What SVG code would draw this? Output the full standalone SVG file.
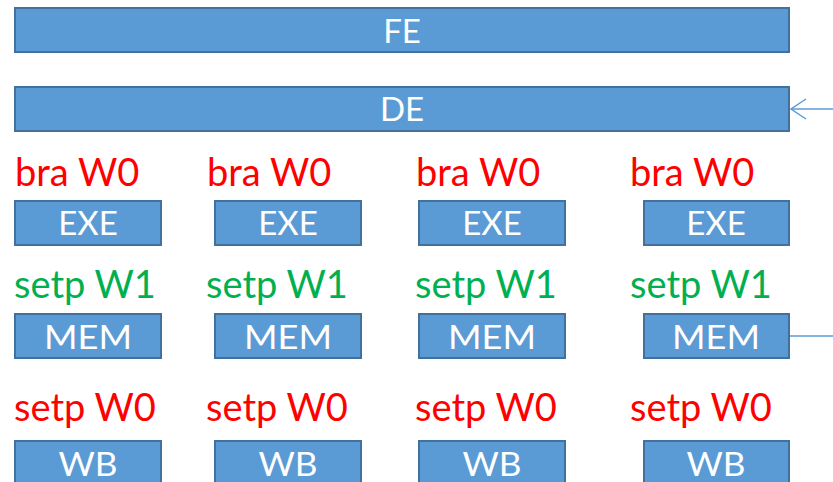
<svg xmlns="http://www.w3.org/2000/svg" width="833" height="482" viewBox="0 0 833 482">
<style>
.box{fill:#5B9BD5;stroke:#41719C;stroke-width:2}
.bt{font-family:Lato,"Open Sans",sans-serif;font-size:33px;fill:#fff;text-anchor:middle}
.lbl{font-family:Lato,"Open Sans",sans-serif;font-size:38px}
.red{fill:#FF0000}
.grn{fill:#00B050}
.conn{stroke:#5B9BD5;stroke-width:1.5;fill:none}
</style>
<rect width="833" height="482" fill="#fff"/>
<g id="fe"><rect class="box" x="15" y="8" width="774" height="44"/><text class="bt" x="402" y="43">FE</text></g>
<g id="de"><rect class="box" x="15" y="87" width="774" height="44"/><text class="bt" x="402" y="121">DE</text></g>
<g id="labels-bra">
<text class="lbl red" x="15" y="186">bra W0</text>
<text class="lbl red" x="207" y="186">bra W0</text>
<text class="lbl red" x="416" y="186">bra W0</text>
<text class="lbl red" x="630" y="186">bra W0</text>
</g>
<g id="exe1"><rect class="box" x="15" y="201" width="146" height="44"/><text class="bt" x="88" y="235">EXE</text></g>
<g id="exe2"><rect class="box" x="215" y="201" width="146" height="44"/><text class="bt" x="288" y="235">EXE</text></g>
<g id="exe3"><rect class="box" x="419" y="201" width="146" height="44"/><text class="bt" x="492" y="235">EXE</text></g>
<g id="exe4"><rect class="box" x="644" y="201" width="145" height="44"/><text class="bt" x="716" y="235">EXE</text></g>
<g id="labels-setp1">
<text class="lbl grn" x="14" y="298">setp W1</text>
<text class="lbl grn" x="206" y="298">setp W1</text>
<text class="lbl grn" x="415" y="298">setp W1</text>
<text class="lbl grn" x="630" y="298">setp W1</text>
</g>
<g id="mem1"><rect class="box" x="15" y="314" width="146" height="44"/><text class="bt" x="88" y="349" textLength="88" lengthAdjust="spacingAndGlyphs">MEM</text></g>
<g id="mem2"><rect class="box" x="215" y="314" width="146" height="44"/><text class="bt" x="288" y="349" textLength="88" lengthAdjust="spacingAndGlyphs">MEM</text></g>
<g id="mem3"><rect class="box" x="419" y="314" width="146" height="44"/><text class="bt" x="492" y="349" textLength="88" lengthAdjust="spacingAndGlyphs">MEM</text></g>
<g id="mem4"><rect class="box" x="644" y="314" width="145" height="44"/><text class="bt" x="716" y="349" textLength="88" lengthAdjust="spacingAndGlyphs">MEM</text></g>
<g id="labels-setp0">
<text class="lbl red" x="14" y="421">setp W0</text>
<text class="lbl red" x="206" y="421">setp W0</text>
<text class="lbl red" x="415" y="421">setp W0</text>
<text class="lbl red" x="630" y="421">setp W0</text>
</g>
<g id="wb1"><rect class="box" x="15" y="441" width="146" height="50"/><text class="bt" x="88" y="476" textLength="59" lengthAdjust="spacingAndGlyphs">WB</text></g>
<g id="wb2"><rect class="box" x="215" y="441" width="146" height="50"/><text class="bt" x="288" y="476" textLength="59" lengthAdjust="spacingAndGlyphs">WB</text></g>
<g id="wb3"><rect class="box" x="419" y="441" width="146" height="50"/><text class="bt" x="492" y="476" textLength="59" lengthAdjust="spacingAndGlyphs">WB</text></g>
<g id="wb4"><rect class="box" x="644" y="441" width="145" height="50"/><text class="bt" x="716" y="476" textLength="59" lengthAdjust="spacingAndGlyphs">WB</text></g>
<g id="connectors">
<line class="conn" x1="833" y1="109" x2="791" y2="109"/>
<path class="conn" d="M806,99 L791,109 L806,119"/>
<line class="conn" x1="790" y1="336" x2="833" y2="336"/>
</g>
</svg>
